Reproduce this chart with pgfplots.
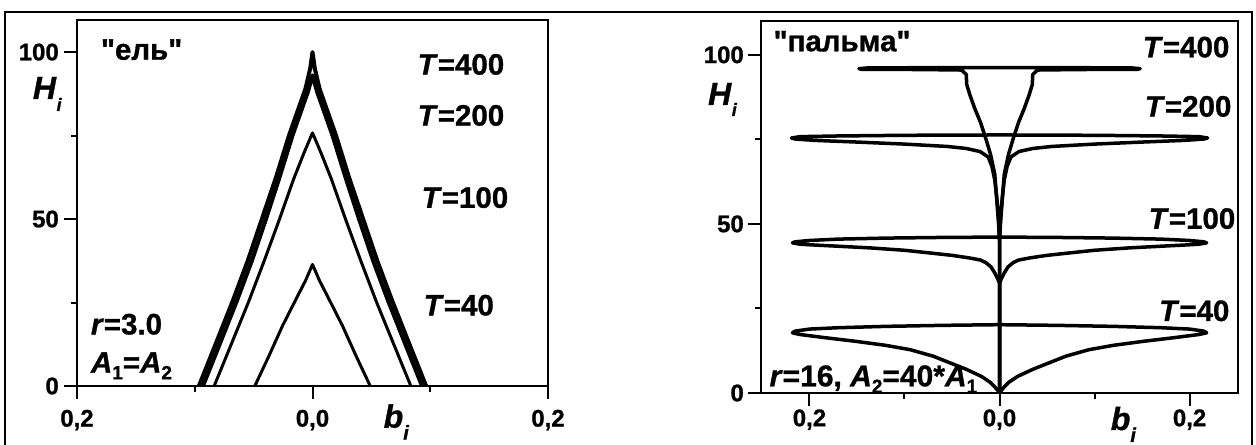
\documentclass[border=0pt]{standalone}
\usepackage{pgfplots}
\pgfplotsset{compat=1.18}
\usepackage{fontspec}
\setmainfont{Liberation Sans}[Ligatures=TeXOff, BoldFeatures={FakeBold=1.0}, BoldItalicFeatures={FakeBold=1.0}]
\newcommand{\sub}[1]{\raisebox{-6.5bp}{\fontsize{19bp}{19bp}\selectfont #1}}
\newcommand{\ann}{\fontsize{29.5bp}{32bp}\selectfont\bfseries}
\begin{document}
\begin{tikzpicture}
\pgfplotsset{
 panel/.style={
  scale only axis, anchor=south west,
  axis line style={line width=1.3bp},
  tick align=outside, tick pos=left,
  major tick length=13bp, minor tick length=6bp,
  tick style={line width=2bp, black},
  ymin=0, ytick={0,50,100}, yticklabels={0,50,100}, minor ytick={25,75},
  xtick={-0.2,0,0.2}, xticklabels={{0,2},{0,0},{0,2}}, minor xtick={-0.1,0.1},
  tick label style={font=\fontsize{24bp}{24bp}\selectfont\bfseries, inner sep=0pt},
  yticklabel style={anchor=east},
  xticklabel style={anchor=base},
  after end axis/.code={\draw[line width=2.2bp, line cap=rect] (rel axis cs:0,1) -- (rel axis cs:0,0) -- (rel axis cs:1,0);},
 },
}
% ---------------- left panel: "ель"
\begin{axis}[panel, at={(77bp,59bp)}, width=471bp, height=366bp,
  xmin=-0.2, xmax=0.2, ymax=109.6,
  xticklabel style={yshift=-27.6bp}, yticklabel style={xshift=-5bp}]
% T=400
\addplot[black, line width=4bp, line join=round] coordinates {
 (-0.0965,0) (-0.082,12.8) (-0.0675,25.7) (-0.055,37.5) (-0.043,50) (-0.031,62.5)
 (-0.02,75) (-0.012,83) (-0.006,89) (-0.002,95) (0,100)
 (0.002,95) (0.006,89) (0.012,83) (0.02,75) (0.031,62.5) (0.043,50) (0.055,37.5)
 (0.0675,25.7) (0.082,12.8) (0.0965,0)};
% T=200
\addplot[black, line width=4bp, line join=round] coordinates {
 (-0.093,0) (-0.0785,12.8) (-0.064,25.7) (-0.0515,37.5) (-0.0395,50) (-0.028,62.5)
 (-0.017,75) (-0.009,83) (-0.004,88) (0,93)
 (0.004,88) (0.009,83) (0.017,75) (0.028,62.5) (0.0395,50) (0.0515,37.5)
 (0.064,25.7) (0.0785,12.8) (0.093,0)};
% T=100
\addplot[black, line width=3bp, line join=round] coordinates {
 (-0.0835,0) (-0.069,12.5) (-0.0545,25) (-0.041,37.5) (-0.028,50) (-0.016,62) (-0.007,70) (0,75.8)
 (0.007,70) (0.016,62) (0.028,50) (0.041,37.5) (0.0545,25) (0.069,12.5) (0.0835,0)};
% T=40
\addplot[black, line width=3bp, line join=round] coordinates {
 (-0.049,0) (-0.037,9) (-0.0255,18) (-0.014,26) (-0.006,31.5) (0,36.4)
 (0.006,31.5) (0.014,26) (0.0255,18) (0.037,9) (0.049,0)};
\end{axis}
% ---------------- right panel: "пальма"
\begin{axis}[panel, at={(761bp,52bp)}, width=477bp, height=372bp,
  xmin=-0.251, xmax=0.251, ymax=110,
  xticklabel style={yshift=-20.2bp}, yticklabel style={xshift=-4bp}]
% T=40
\addplot[black, line width=3.5bp, line join=round] coordinates {
 (0,0) (-0.002,0.8) (-0.005,1.8) (-0.01,3.2) (-0.019,4.9) (-0.035,7.0) (-0.052,8.9)
 (-0.07,10.9) (-0.094,12.8) (-0.12,14.1) (-0.152,15.3) (-0.185,16.4) (-0.21,17.3)
 (-0.218,17.8) (-0.215,18.3) (-0.2,18.9) (-0.17,19.3) (-0.12,19.7) (-0.06,20.0) (0,20.2)
 (0.06,20.0) (0.12,19.7) (0.17,19.3) (0.2,18.9) (0.215,18.3) (0.218,17.8)
 (0.21,17.3) (0.185,16.4) (0.152,15.3) (0.12,14.1) (0.094,12.8) (0.07,10.9) (0.052,8.9)
 (0.035,7.0) (0.019,4.9) (0.01,3.2) (0.005,1.8) (0.002,0.8) (0,0)};
% T=100
\addplot[black, line width=3.5bp, line join=round] coordinates {
 (0,0) (0,32.5) (-0.002,33.8) (-0.005,35.5) (-0.009,37.3) (-0.0146,38.6) (-0.02,39.3)
 (-0.031,39.9) (-0.05,40.7) (-0.073,41.4) (-0.1,42.2) (-0.136,42.9) (-0.17,43.4)
 (-0.198,43.8) (-0.21,44.0) (-0.218,44.4) (-0.215,44.7) (-0.2,45.1) (-0.17,45.5)
 (-0.12,45.8) (-0.06,46.0) (0,46.1)
 (0.06,46.0) (0.12,45.8) (0.17,45.5) (0.2,45.1) (0.215,44.7) (0.218,44.4)
 (0.21,44.0) (0.198,43.8) (0.17,43.4) (0.136,42.9) (0.1,42.2) (0.073,41.4) (0.05,40.7)
 (0.031,39.9) (0.02,39.3) (0.0146,38.6) (0.009,37.3) (0.005,35.5) (0.002,33.8) (0,32.5)};
% T=200
\addplot[black, line width=3.5bp, line join=round] coordinates {
 (0,0) (0,45) (-0.001,52) (-0.003,58) (-0.005,63) (-0.008,67) (-0.012,69.8)
 (-0.0205,71.4) (-0.035,72.3) (-0.055,72.9) (-0.1,73.6) (-0.15,74.2) (-0.195,74.7)
 (-0.215,75.1) (-0.219,75.4) (-0.21,75.8) (-0.17,76.0) (-0.1,76.2) (0,76.3)
 (0.1,76.2) (0.17,76.0) (0.21,75.8) (0.219,75.4) (0.215,75.1) (0.195,74.7)
 (0.15,74.2) (0.1,73.6) (0.055,72.9) (0.035,72.3) (0.0205,71.4) (0.012,69.8)
 (0.008,67) (0.005,63) (0.003,58) (0.001,52) (0,45)};
% T=400
\addplot[black, line width=3.5bp, line join=round] coordinates {
 (0,0) (0,45) (-0.001,50) (-0.0028,56.8) (-0.005,64.7) (-0.0095,70.6) (-0.0145,75.3)
 (-0.02,80) (-0.026,84.1) (-0.031,88) (-0.0345,91.2) (-0.035,94.2) (-0.04,95.5)
 (-0.07,95.6) (-0.11,95.7) (-0.145,95.7) (-0.148,95.9) (-0.14,96.1) (-0.08,96.2) (0,96.2)
 (0.08,96.2) (0.14,96.1) (0.148,95.9) (0.145,95.7) (0.11,95.7) (0.07,95.6)
 (0.04,95.5) (0.035,94.2) (0.0345,91.2) (0.031,88) (0.026,84.1) (0.02,80)
 (0.0145,75.3) (0.0095,70.6) (0.005,64.7) (0.0028,56.8) (0.001,50) (0,45)};
\end{axis}
% ---------------- annotations
\begin{scope}[x=1bp, y=1bp, every node/.style={inner sep=0pt, font=\ann}]
\node[anchor=base west] at (100.8,385.3) {"ель"};
\node[anchor=base west] at (417.5,370.4) {\textit{T}=400};
\node[anchor=base west] at (417.5,319.4) {\textit{T}=200};
\node[anchor=base west] at (421.5,237.2) {\textit{T}=100};
\node[anchor=base west] at (423.5,129.6) {\textit{T}=40};
\node[anchor=base west] at (90.8,110.6) {\textit{r}=3.0};
\node[anchor=base west] at (90.8,72.3) {\textit{A}\sub{1}=\textit{A}\sub{2}};
\node[anchor=base west, font=\fontsize{32bp}{34bp}\selectfont\bfseries] at (32.7,346) {\textit{H}\raisebox{-12bp}{\fontsize{18bp}{18bp}\selectfont\itshape i}};
\node[anchor=base west, font=\fontsize{32bp}{34bp}\selectfont\bfseries] at (383.5,17.4) {\textit{b}\raisebox{-12bp}{\fontsize{20bp}{20bp}\selectfont\itshape i}};
\node[anchor=base west] at (773.4,393.7) {"пальма"};
\node[anchor=base east] at (1229.6,387.7) {\textit{T}=400};
\node[anchor=base east] at (1231.6,328.4) {\textit{T}=200};
\node[anchor=base east] at (1235.5,216.2) {\textit{T}=100};
\node[anchor=base east] at (1229.6,124) {\textit{T}=40};
\node[anchor=base west, font=\fontsize{30bp}{32bp}\selectfont\bfseries] at (769.4,58.7) {\textit{r}=16, \textit{A}\sub{2}=40*\textit{A}\sub{1}};
\node[anchor=base west, font=\fontsize{32bp}{34bp}\selectfont\bfseries] at (707.9,340) {\textit{H}\raisebox{-11bp}{\fontsize{18bp}{18bp}\selectfont\itshape i}};
\node[anchor=base west, font=\fontsize{32bp}{34bp}\selectfont\bfseries] at (1110.6,15) {\textit{b}\raisebox{-12bp}{\fontsize{20bp}{20bp}\selectfont\itshape i}};
% outer frame
\draw[line width=2.8bp] (5,0) -- (5,433) -- (1252,433) -- (1252,0);
\pgfresetboundingbox
\useasboundingbox (0,0) rectangle (1256,445);
\end{scope}
\end{tikzpicture}
\end{document}
